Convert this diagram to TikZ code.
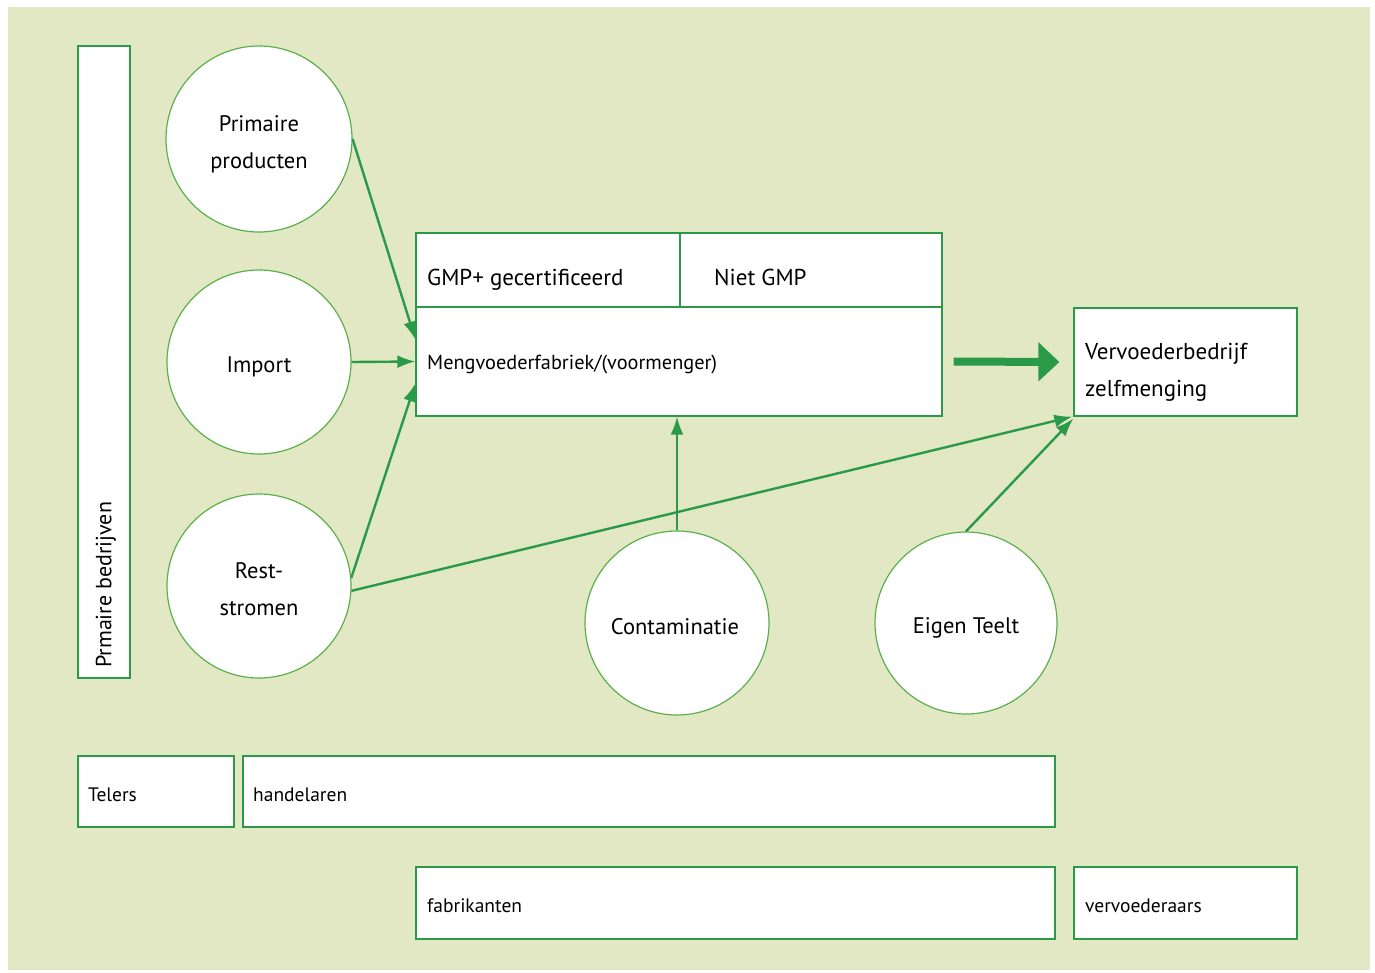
\documentclass[tikz,border=0pt]{standalone}
\usepackage{fontspec}
\setmainfont{PT Sans}
\usetikzlibrary{arrows.meta,calc}
\definecolor{bg}{HTML}{E2E8C4}
\definecolor{gline}{HTML}{2A9A48}
\definecolor{cline}{HTML}{5CB04C}
\tikzset{
  boxnode/.style={draw=gline,line width=1.3pt,fill=white,inner sep=0pt},
  circnode/.style={draw=cline,line width=1.2pt,fill=white,circle,inner sep=0pt,align=center,font=\fontsize{22.5}{37}\selectfont,text depth=0pt},
  lbl/.style={anchor=west,inner sep=0pt,text=black},
  conn/.style={draw=gline,line width=2.4pt,-{Latex[length=18pt,width=13pt]}},
  bigarrow/.style={draw=gline,line width=8pt,-{Triangle[length=21pt,width=38pt]}},
}
\begin{document}
\begin{tikzpicture}[x=1pt,y=-1pt]
\useasboundingbox (0,0) rectangle (1375,972);
\fill[bg] (8,7) rectangle (1370,970);
% left vertical box
\node[boxnode,minimum width=52pt,minimum height=632pt] (prim) at (104,362) {};
\node[lbl,rotate=90,font=\fontsize{22}{25}\selectfont] (primtxt) at (106,668) {Prmaire bedrijven};
% circles
\node[circnode,minimum size=186pt] (pp) at (259,139) {};
\node[circnode,minimum size=184pt] (imp) at (259,362) {};
\node[circnode,minimum size=184pt] (rest) at (259,586) {};
\node[circnode,minimum size=184pt] (cont) at (677,623) {};
\node[circnode,minimum size=182pt] (eigen) at (966,623) {};
\node[circnode,draw=none,fill=none] (pptxt) at (259,142) {Primaire\\producten};
\node[circnode,draw=none,fill=none] (imptxt) at (259,365) {Import};
\node[circnode,draw=none,fill=none] (resttxt) at (259,589) {Rest-\\stromen};
\node[circnode,draw=none,fill=none] (conttxt) at (675,626) {Contaminatie};
\node[circnode,draw=none,fill=none] (eigentxt) at (966,626) {Eigen Teelt};
% main box
\node[boxnode,minimum width=264pt,minimum height=74pt] (gmp) at (548,270) {};
\node[boxnode,minimum width=262pt,minimum height=74pt] (niet) at (811,270) {};
\node[boxnode,minimum width=526pt,minimum height=109pt] (meng) at (679,361.5) {};
\node[lbl,anchor=base west,font=\fontsize{23}{26}\selectfont] (gmptxt) at (427,285.5) {GMP+ gecertificeerd};
\node[lbl,anchor=base west,font=\fontsize{23}{26}\selectfont] (niettxt) at (714,285.5) {Niet GMP};
\node[lbl,font=\fontsize{20.3}{23}\selectfont] (mengtxt) at (427,364) {Mengvoederfabriek/(voormenger)};
% vervoederbedrijf
\node[boxnode,minimum width=223pt,minimum height=108pt] (verv) at (1185.5,362) {};
\node[lbl,font=\fontsize{23}{26}\selectfont] (vervtxt1) at (1085,354) {Vervoederbedrijf};
\node[lbl,font=\fontsize{23}{26}\selectfont] (vervtxt2) at (1085,391) {zelfmenging};
% bottom boxes
\node[boxnode,minimum width=156pt,minimum height=71pt] (telers) at (156,791.5) {};
\node[lbl,font=\fontsize{19.5}{23}\selectfont] at (88,795) {Telers};
\node[boxnode,minimum width=812pt,minimum height=71pt] (hand) at (649,791.5) {};
\node[lbl,font=\fontsize{19.5}{23}\selectfont] at (253,795) {handelaren};
\node[boxnode,minimum width=639pt,minimum height=72pt] (fab) at (735.5,903) {};
\node[lbl,font=\fontsize{19.5}{23}\selectfont] at (427,906) {fabrikanten};
\node[boxnode,minimum width=223pt,minimum height=72pt] (vervr) at (1185.5,903) {};
\node[lbl,font=\fontsize{19.5}{23}\selectfont] at (1085,906) {vervoederaars};
% connectors
\draw[conn] (pp.east) -- ([yshift=22pt]meng.west);
\draw[conn] (imp.east) -- (meng.west);
\draw[conn] (rest.5) -- ([yshift=-22pt]meng.west);
\draw[conn] (rest.-3) -- ([xshift=-1pt]verv.south west);
\draw[conn] (cont.north) -- (cont.north |- meng.south);
\draw[conn] (eigen.north) -- ([yshift=-2pt]verv.south west);
\draw[bigarrow] ([xshift=11pt]meng.east) -- ([xshift=-14pt]verv.west);
\end{tikzpicture}
\end{document}
